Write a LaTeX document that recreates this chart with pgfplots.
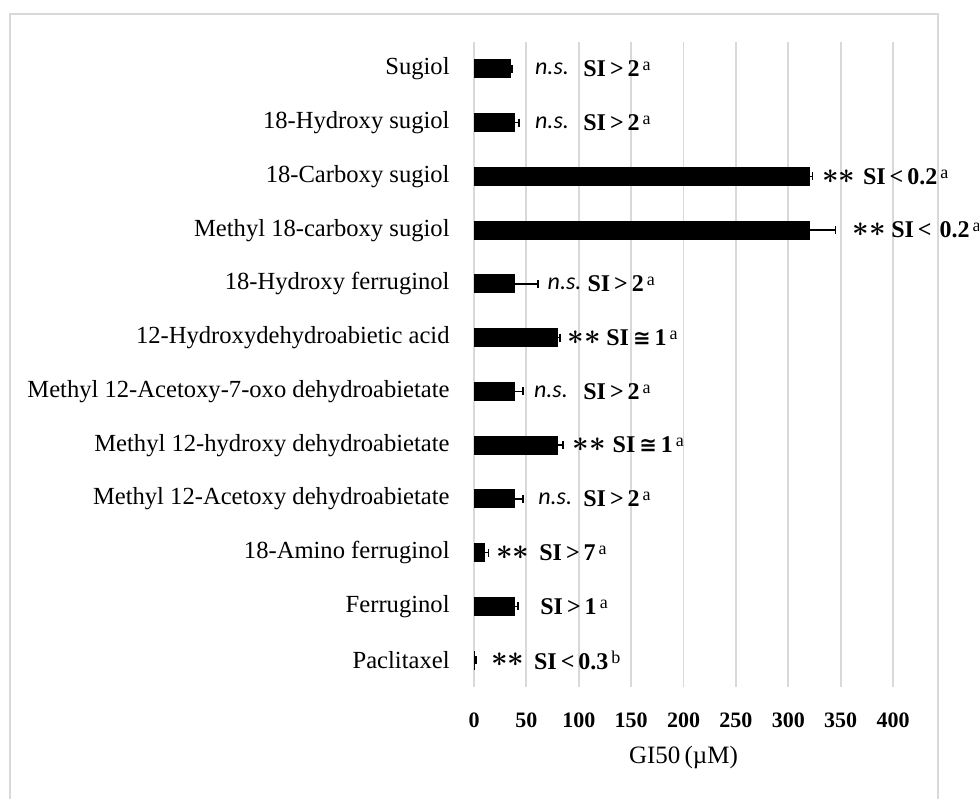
\documentclass[border=0pt]{standalone}
\usepackage{fontspec}
\usepackage{amsmath}
\setmainfont{Liberation Serif}
\newfontfamily\nsfont{Carlito}
\newfontfamily\symfnt{DejaVu Sans}
\usepackage{pgfplots}
\pgfplotsset{compat=1.18}
\definecolor{gridgray}{HTML}{D9D9D9}

% annotation helpers
\newcommand{\supr}[1]{\hspace{1.5pt}\raisebox{0.55ex}{\mdseries\fontsize{9}{10}\selectfont #1}}
\newcommand{\ns}[2]{\node[anchor=west, inner sep=0pt, font=\nsfont\itshape\fontsize{12}{14}\selectfont] at (axis cs:#1,#2) {n.s.};}
\newcommand{\stars}[2]{\node[anchor=west, inner sep=0pt, font=\fontsize{14}{15}\selectfont] at (axis cs:#1,#2) {$\boldsymbol{\ast}\boldsymbol{\ast}$};}
\newcommand{\si}[5]{\node[anchor=west, inner sep=0pt, font=\bfseries\fontsize{12}{14}\selectfont] at (axis cs:#1,#2) {SI\,#3\,#4\supr{#5}};}
\newcommand{\congsym}{{\symfnt\fontsize{10.5}{12}\selectfont ≅}}

\begin{document}
\begin{tikzpicture}[x=1pt,y=1pt]
\useasboundingbox (0,0) rectangle (489.5,399);
\draw[gridgray, line width=1pt] (5,-2) -- (5,392) -- (469,392) -- (469,-2);
\begin{axis}[
  at={(237pt,55.5pt)}, anchor=south west,
  scale only axis, width=209.5pt, height=322.5pt,
  xmin=0, xmax=400, ymin=-0.5, ymax=11.5,
  axis line style={draw=none},
  tick style={draw=none},
  xtick={0,50,...,400},
  ytick={0,...,11},
  yticklabels={Paclitaxel, Ferruginol, 18-Amino ferruginol,
    Methyl 12-Acetoxy dehydroabietate, Methyl 12-hydroxy dehydroabietate,
    Methyl 12-Acetoxy-7-oxo dehydroabietate, 12-Hydroxydehydroabietic acid,
    18-Hydroxy ferruginol, Methyl 18-carboxy sugiol, 18-Carboxy sugiol,
    18-Hydroxy sugiol, Sugiol},
  yticklabel style={anchor=east, inner xsep=0pt, xshift=-12pt,
    font=\fontsize{12.3}{14}\selectfont},
  xticklabel style={anchor=center, yshift=-16.5pt,
    font=\bfseries\fontsize{11}{13}\selectfont},
  /pgf/number format/assume math mode=true,
  xmajorgrids,
  major grid style={gridgray, line width=0.9pt},
  xlabel={GI50\,(\textmu M)},
  xlabel style={at={(axis description cs:0.5,-0.110)}, anchor=center,
    font=\fontsize{12.5}{14}\selectfont},
  clip=false,
]
\addplot[xbar, bar width=9pt, fill=black, draw=black,
  error bars/.cd, x dir=plus, x explicit, error mark=|,
  error bar style={line width=0.8pt, black},
  error mark options={line width=0.8pt, mark size=2pt, black}]
  coordinates {
    (0.3,0) +- (1.5,0)
    (39,1) +- (3,0)
    (9.5,2) +- (4.5,0)
    (39,3) +- (8,0)
    (80,4) +- (5,0)
    (39,5) +- (8,0)
    (80,6) +- (2,0)
    (39,7) +- (22,0)
    (320,8) +- (25,0)
    (320,9) +- (3,0)
    (39,10) +- (4,0)
    (35,11) +- (1,0)
  };

\ns{58}{11}    \si{104}{11}{>}{2}{a}
\ns{58}{10}    \si{104}{10}{>}{2}{a}
\stars{332}{9} \si{371}{9}{<}{0.2}{a}
\stars{361}{8} \si{398}{8}{<}{\,0.2}{a}
\ns{70}{7}     \si{108}{7}{>}{2}{a}
\stars{89}{6}  \si{126}{6}{\congsym}{1}{a}
\ns{57}{5}     \si{104}{5}{>}{2}{a}
\stars{94}{4}  \si{132}{4}{\congsym}{1}{a}
\ns{61}{3}     \si{104}{3}{>}{2}{a}
\stars{21}{2}  \si{62}{2}{>}{7}{a}
\si{63}{1}{>}{1}{a}
\stars{16}{0}  \si{57}{0}{<}{0.3}{b}
\end{axis}
\end{tikzpicture}
\end{document}
